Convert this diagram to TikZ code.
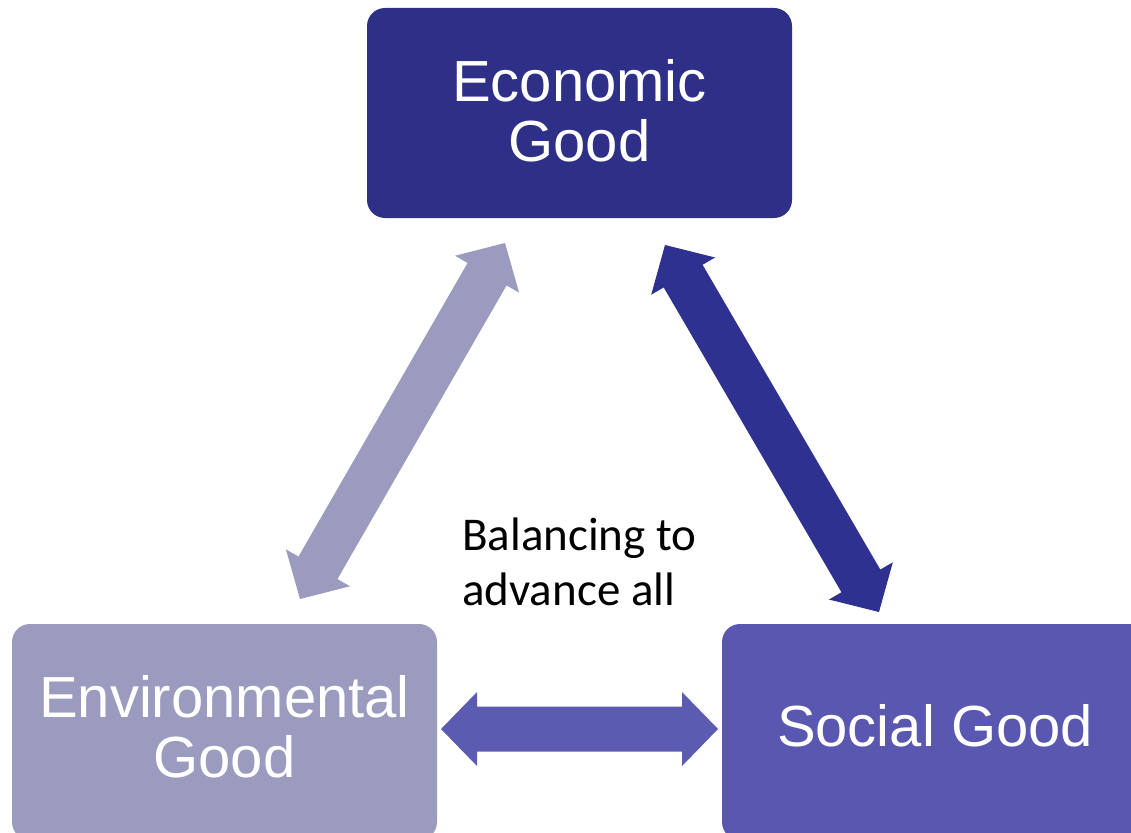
\documentclass[tikz,border=0pt]{standalone}
\usepackage{fontspec}
\setmainfont{Liberation Sans}
\newfontfamily\calibfont{Carlito}
\usetikzlibrary{calc}
\definecolor{ecoC}{RGB}{46,48,135}
\definecolor{envC}{RGB}{155,155,192}
\definecolor{socC}{RGB}{89,87,175}
\definecolor{rarC}{RGB}{47,49,145}
\definecolor{barC}{RGB}{92,91,178}
\newcommand\blockarr[4]{%
  \coordinate (#4-ha) at ($(#1)!36pt!(#2)$);
  \coordinate (#4-hb) at ($(#2)!36pt!(#1)$);
  \fill[#3] (#1) -- ($(#4-ha)!37pt!90:(#2)$) -- ($(#4-ha)!22.5pt!90:(#2)$)
    -- ($(#4-hb)!22.5pt!-90:(#1)$) -- ($(#4-hb)!37pt!-90:(#1)$) -- (#2)
    -- ($(#4-hb)!37pt!90:(#1)$) -- ($(#4-hb)!22.5pt!90:(#1)$)
    -- ($(#4-ha)!22.5pt!-90:(#2)$) -- ($(#4-ha)!37pt!-90:(#2)$) -- cycle;
}
\tikzset{
  gbox/.style={rounded corners=18pt, inner sep=0pt, draw=none},
  gtext/.style={text=white, align=center, inner sep=0pt,
    font=\fontsize{58}{60}\selectfont},
}
\begin{document}
\begin{tikzpicture}[x=1pt,y=-1pt]
\useasboundingbox (0,0) rectangle (1131,832);
\clip (0,0) rectangle (1131,832);
% boxes
\node[gbox, fill=ecoC, minimum width=425pt, minimum height=210pt] (eco) at (579.5,113) {};
\node[gtext] (ecot) at (579.5,111) {Economic\\Good};
\node[gbox, fill=envC, minimum width=425pt, minimum height=216pt] (env) at (224.5,732) {};
\node[gtext] (envt) at (224.5,727) {Environmental\\Good};
\node[gbox, fill=socC, minimum width=430pt, minimum height=216pt] (soc) at (937,732) {};
\node[gtext] (soct) at (935,725.5) {Social Good};
% center text
\node[anchor=base west, align=left, inner sep=0pt,
  font=\calibfont\fontsize{47}{55}\selectfont] (bal) at (462,605) {Balancing to\\advance all};
% arrow end points
\coordinate (l1) at (300,599);
\coordinate (l2) at (505,243);
\coordinate (r1) at (665,245);
\coordinate (r2) at (879,612);
\coordinate (b1) at (441,729);
\coordinate (b2) at (718,729);
\blockarr{l1}{l2}{envC}{la}
\blockarr{r1}{r2}{rarC}{ra}
\blockarr{b1}{b2}{barC}{ba}
\end{tikzpicture}
\end{document}
